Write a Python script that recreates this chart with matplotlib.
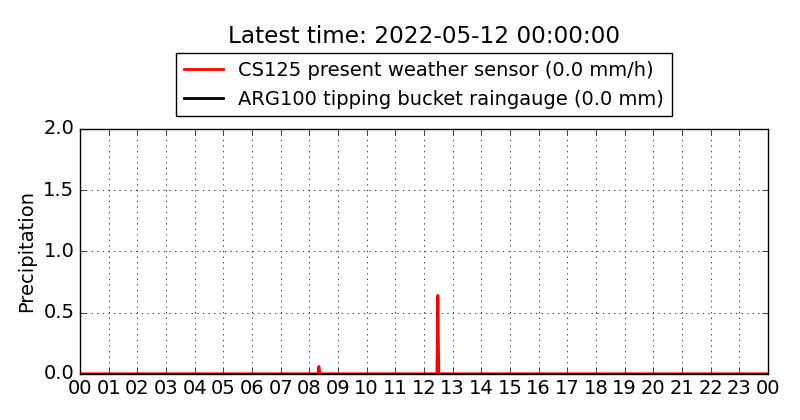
import datetime as dt
import matplotlib
matplotlib.use("Agg")
import matplotlib.pyplot as plt
import matplotlib.dates as mdates

plt.style.use("classic")

day = dt.datetime(2022, 5, 12)

# CS125 present weather sensor (mm/h), sparse points around the two events
cs_minutes = [0, 498, 500, 502, 747, 749, 751, 1439]
cs_values = [0.0, 0.0, 0.06, 0.0, 0.0, 0.64, 0.0, 0.0]

# ARG100 tipping bucket (mm)
arg_minutes = [0, 1439]
arg_values = [0.0, 0.0]

cs_time = [day + dt.timedelta(minutes=m) for m in cs_minutes]
arg_time = [day + dt.timedelta(minutes=m) for m in arg_minutes]

fig = plt.figure(figsize=(8, 4.2), dpi=100, facecolor="white")
ax = fig.add_axes([0.1, 0.11, 0.86, 0.583])

ax.plot(cs_time, cs_values, color="red", lw=2,
        label="CS125 present weather sensor (0.0 mm/h)")
ax.plot(arg_time, arg_values, color="black", lw=2,
        label="ARG100 tipping bucket raingauge (0.0 mm)")

ax.set_xlim(day, day + dt.timedelta(days=1))
ax.set_ylim(0, 2.0)
ax.set_yticks([0.0, 0.5, 1.0, 1.5, 2.0])
ax.xaxis.set_major_locator(mdates.HourLocator())
ax.xaxis.set_major_formatter(mdates.DateFormatter("%H"))
ax.tick_params(labelsize=14)
ax.set_ylabel("Precipitation", fontsize=14)
ax.grid(True, color="black", linestyle=":")

ax.legend(loc="lower center", bbox_to_anchor=(0.5, 1.012), fontsize=14,
          frameon=True, numpoints=1, handlelength=2)
fig.text(0.53, 0.94, "Latest time: 2022-05-12 00:00:00", fontsize=16.7,
         ha="center", va="top")

fig.savefig("out.png", dpi=100, facecolor="white")
